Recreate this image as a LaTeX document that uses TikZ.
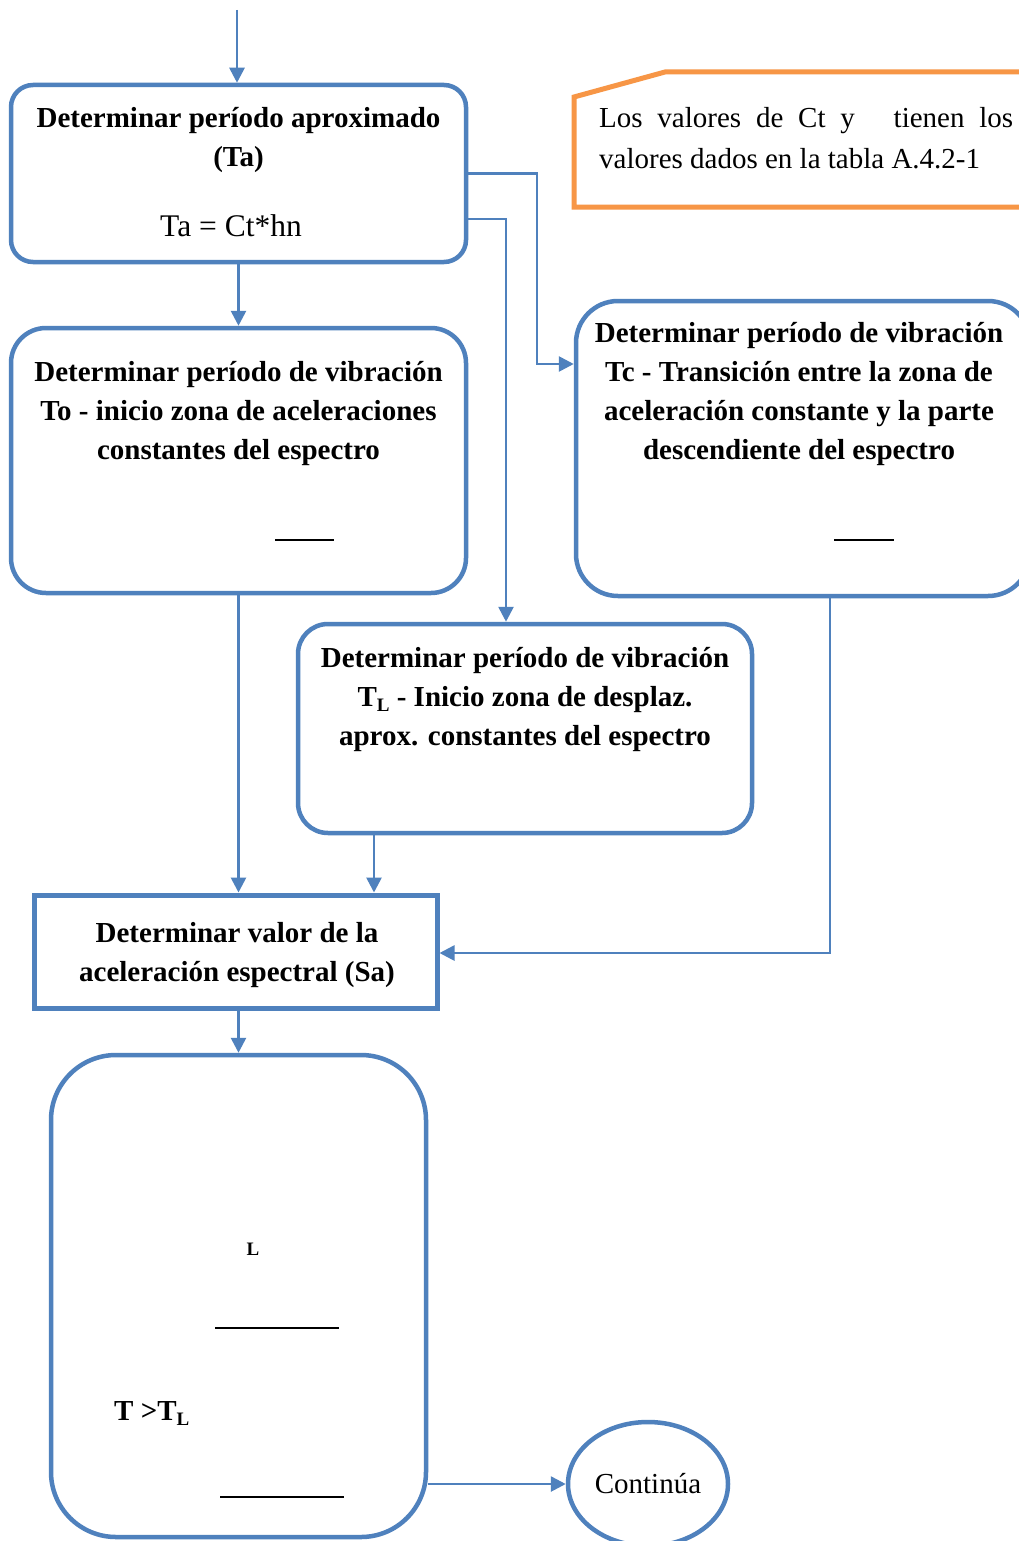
\documentclass[tikz,border=0pt]{standalone}
\usepackage{fontspec}
\setmainfont{Liberation Serif}
\usetikzlibrary{arrows.meta,shapes.geometric}
\definecolor{flowblue}{HTML}{4F81BD}
\definecolor{noteorange}{HTML}{F79646}
\newcommand\bxfont{\bfseries\fontsize{29}{39}\selectfont}
\newcommand\rmfnt{\fontsize{29}{41}\selectfont}
\newcommand\subL{\raisebox{-0.2em}{\fontsize{19}{19}\selectfont L}}

\begin{document}
\begin{tikzpicture}[x=1pt,y=-1pt,
  outline/.style={draw=flowblue, line width=4.5pt, inner sep=0pt},
  rbox/.style={outline, rectangle, rounded corners=#1},
  arr/.style={draw=flowblue, line width=2.7pt, -{Triangle[length=15pt,width=15pt]}},
  txt/.style={inner sep=0pt, align=center, font=\bxfont},
  bar/.style={draw=black, line width=2pt}]
\useasboundingbox (0,0) rectangle (1019,1541);
\clip (0,0) rectangle (1019,1541);
\fill[white] (0,0) rectangle (1019,1541);

% process boxes
\node[rbox=22pt, minimum width=455pt, minimum height=177pt] (b1) at (238.5,173.5) {};
\node[rbox=35pt, minimum width=455pt, minimum height=265pt] (b2) at (238.5,460.5) {};
\node[rbox=42pt, minimum width=454pt, minimum height=295pt] (b3) at (803,448.5) {};
\node[rbox=30pt, minimum width=454pt, minimum height=209pt] (b4) at (525,728.5) {};
\node[outline, line width=5pt, rectangle, minimum width=403pt, minimum height=113pt] (b5) at (235.5,951.5) {};
\node[rbox=65pt, minimum width=375pt, minimum height=482pt] (b6) at (238.5,1296) {};
\node[outline, ellipse, minimum width=160pt, minimum height=124pt, font=\rmfnt] (cont) at (648,1484) {Continúa};

% note (base anchor of a multi-line node sits on its last line)
\draw[draw=noteorange, line width=5pt] (1035,72) -- (665,72) -- (574,97) -- (574,207) -- (1035,207);
\node[inner sep=0pt, anchor=base west, font=\rmfnt, align=left] (note) at (599,169)
  {\makebox[414pt][s]{Los valores de Ct y\hspace{24pt} tienen los}\\valores dados en la tabla A.4.2-1};

% texts
\node[txt, anchor=base] (t1) at (238.5,167) {Determinar período aproximado\\(Ta)};
\node[inner sep=0pt, anchor=base, font=\fontsize{31.5}{38}\selectfont] (t1b) at (231,236) {Ta = Ct*hn};
\node[txt, anchor=base] (t2) at (238.5,459) {Determinar período de vibración\\To - inicio zona de aceleraciones\\constantes del espectro};
\node[txt, anchor=base] (t3) at (799,459) {Determinar período de vibración\\Tc - Transición entre la zona de\\aceleración constante y la parte\\descendiente del espectro};
\node[txt, anchor=base] (t4) at (525,745) {Determinar período de vibración\\T\subL{} - Inicio zona de desplaz.\\aprox. constantes del espectro};
\node[txt, anchor=base] (t5) at (237,981) {Determinar valor de la\\aceleración espectral (Sa)};
\node[inner sep=0pt, anchor=base, font=\bfseries\fontsize{19}{19}\selectfont] (lsym) at (253,1255) {L};
\node[inner sep=0pt, anchor=base west, font=\bxfont] (cond) at (114,1420) {T >T\subL};

% fraction bars
\draw[bar] (275,540) -- (334,540);
\draw[bar] (834,540) -- (894,540);
\draw[bar] (215,1328) -- (339,1328);
\draw[bar] (220,1497) -- (344,1497);

% connectors
\coordinate (start) at (237,10);
\draw[arr] (start) -- (start |- b1.north);
\draw[arr] (b1.south) -- (b2.north);
\draw[arr] (b1.east) -| (537,364) -- (b3.west |- 0,364);
\draw[arr] (b1.east |- 0,219) -| (b4.north -| 506,0);
\draw[arr] (b2.south) -- (b2.south |- b5.north);
\draw[arr] (b4.south -| 374,0) -- (b5.north -| 374,0);
\draw[arr] (b3.south -| 830,0) |- (b5.east |- 0,953);
\draw[arr] (b5.south -| b6.north) -- (b6.north);
\draw[arr] (b6.east |- cont.west) -- (cont.west);
\end{tikzpicture}
\end{document}
